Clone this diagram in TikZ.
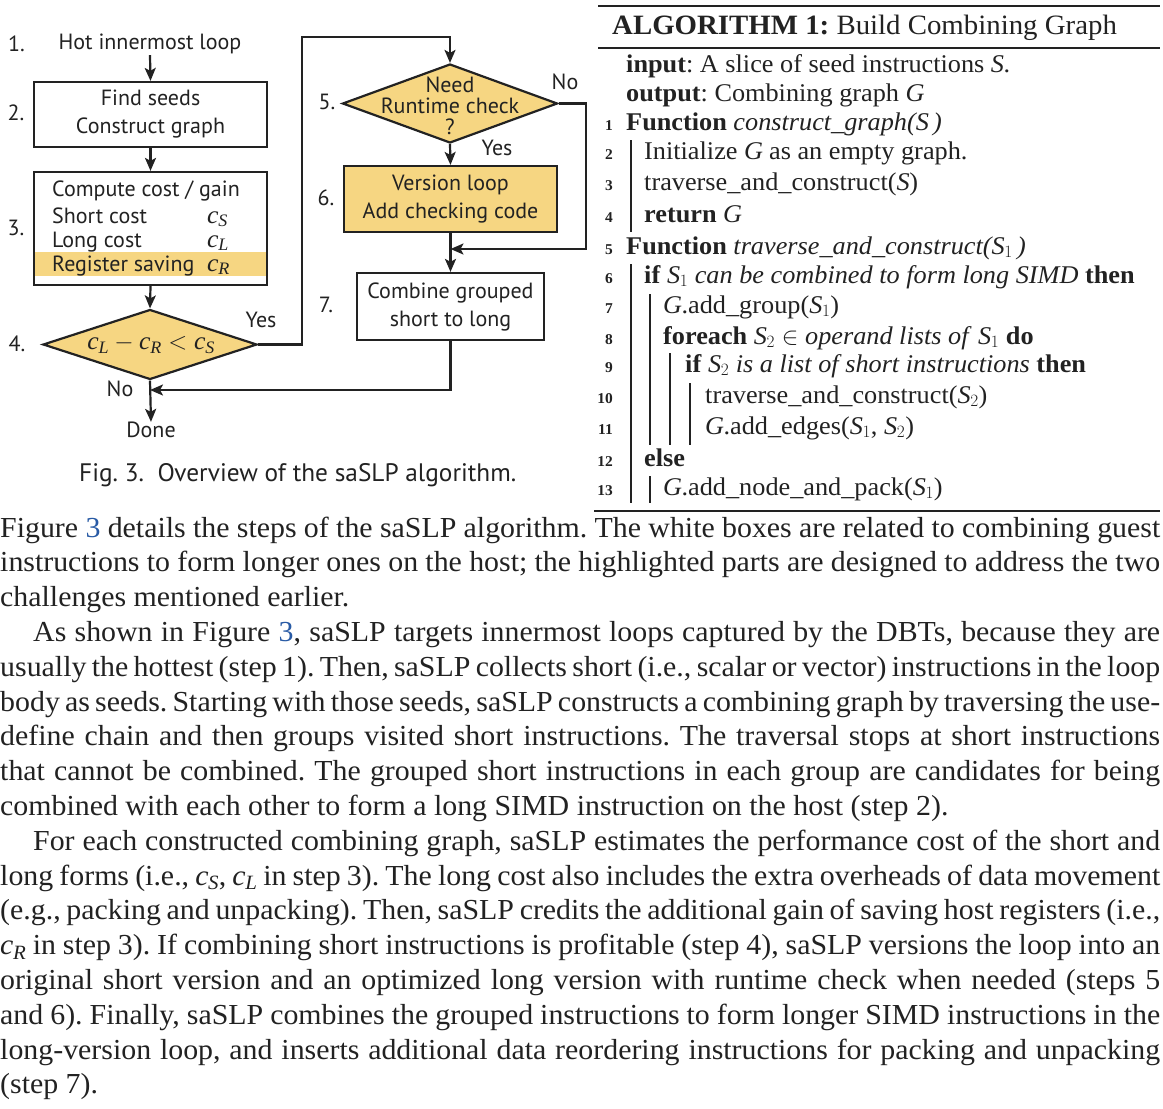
\documentclass[tikz,border=0pt]{standalone}
\usepackage{fontspec}
\setmainfont{Liberation Serif}[FakeStretch=1.03]
\setsansfont{PT Sans}
\usetikzlibrary{shapes.geometric,arrows.meta}
\definecolor{fy}{RGB}{246,214,130}
\definecolor{ink}{RGB}{34,34,34}
\definecolor{lnk}{RGB}{40,90,165}
\newcommand\vi[1]{\mathit{#1}}
\newcommand\ci[1]{\mathit{c}_{\mathit{#1}}}
\frenchspacing
\begin{document}
\begin{tikzpicture}[x=1pt,y=-1pt,
  fl/.style={font=\fontsize{22}{28}\selectfont\sffamily, text=ink},
  box/.style={draw=ink, line width=2.2pt, inner sep=0pt, align=center, fl},
  dia/.style={diamond, draw=ink, line width=2.2pt, fill=fy, inner sep=0pt},
  arr/.style={draw=ink, line width=2.2pt, -{Stealth[length=13pt,width=11pt,inset=3pt]}},
  lab/.style={fl, inner sep=0pt},
  mth/.style={font=\fontsize{25}{28}\selectfont, text=ink, inner sep=0pt},
  body/.style={font=\fontsize{29}{35}\selectfont, text=ink, inner sep=0pt, anchor=base west},
  alg/.style={font=\fontsize{25.5}{30}\selectfont, text=ink, inner sep=0pt, anchor=base west},
  algn/.style={font=\fontsize{15}{15}\selectfont\bfseries, text=ink, inner sep=0pt, anchor=base east},
  bar/.style={draw=ink, line width=1.3pt},
  rule/.style={draw=ink, line width=1.8pt}
]
\useasboundingbox (0,0) rectangle (1163,1109);
\fill[white] (0,0) rectangle (1163,1109);

% ---------------- flowchart ----------------
\node[lab, inner sep=1pt] (h1) at (150,44) {Hot innermost loop};
\node[box, minimum width=233pt, minimum height=65pt] (b2) at (150.5,114.5) {Find seeds\\Construct graph};
\fill[fy] (35,252) rectangle (266,276);
\node[box, minimum width=233pt, minimum height=113pt] (b3) at (150.5,228.5) {};
\node[lab, anchor=base west] (t3a) at (52,196) {Compute cost / gain};
\node[lab, anchor=base west] (t3b) at (52,223) {Short cost};
\node[lab, anchor=base west] (t3c) at (52,247) {Long cost};
\node[lab, anchor=base west] (t3d) at (52,271) {Register saving};
\node[mth, anchor=base west] (m3b) at (207,223) {$\ci{S}$};
\node[mth, anchor=base west] (m3c) at (207,247) {$\ci{L}$};
\node[mth, anchor=base west] (m3d) at (207,271) {$\ci{R}$};
\node[dia, minimum width=214pt, minimum height=70pt] (d4) at (150,344.5) {};
\node[mth] (t4) at (151,344.5) {$\ci{L} - \ci{R} < \ci{S}$};
\node[dia, minimum width=215pt, minimum height=79pt] (d5) at (450,103.5) {};
\node[lab, align=center, font=\fontsize{22}{21}\selectfont\sffamily] (t5) at (450,106) {Need\\Runtime check\\?};
\node[box, fill=fy, minimum width=213pt, minimum height=66pt] (b6) at (450.5,199) {Version loop\\Add checking code};
\node[box, minimum width=187pt, minimum height=67pt] (b7) at (450.5,306.5) {Combine grouped\\short to long};
\node[lab] (done) at (151,430) {Done};

\node[lab] (s1) at (16.5,44) {1.};
\node[lab] (s2) at (16,113) {2.};
\node[lab] (s3) at (16,228) {3.};
\node[lab] (s4) at (17,344) {4.};
\node[lab] (s5) at (327,102) {5.};
\node[lab] (s6) at (326,198) {6.};
\node[lab] (s7) at (326,305) {7.};
\node[lab] (y4) at (261,320) {Yes};
\node[lab] (n4) at (120,389) {No};
\node[lab] (n5) at (565,82) {No};
\node[lab] (y5) at (497,148) {Yes};

\coordinate (c1) at (302,37);
\coordinate (c2) at (586,249);
\coordinate (c3) at (150,390);

\draw[arr] (h1.south) -- (b2.north);
\draw[arr] (b2.south) -- (b3.north);
\draw[arr] (b3.south) -- (d4.north);
\draw[arr] (d4.east) -| (c1) -| (d5.north);
\draw[arr] (d5.south) -- (b6.north);
\draw[arr] (d5.east) -| (c2) -- (b6.south |- c2);
\draw[arr] (b6.south) -- (b7.north);
\draw[arr] (b7.south) |- (c3);
\draw[arr] (d4.south) -- (done.north);

\node[font=\fontsize{25.3}{28}\selectfont\sffamily, text=ink, inner sep=0pt, anchor=base west] (cap) at (79,481) {Fig. 3.\ \ Overview of the saSLP algorithm.};

% ---------------- algorithm ----------------
\coordinate (r1a) at (598,6);  \coordinate (r1b) at (1160,6);
\coordinate (r2a) at (598,48); \coordinate (r2b) at (1160,48);
\coordinate (r3a) at (594,511); \coordinate (r3b) at (1160,511);
\draw[rule, line width=2.2pt] (r1a) -- (r1b);
\draw[rule] (r2a) -- (r2b);
\draw[rule] (r3a) -- (r3b);
\node[alg, font=\fontsize{28}{30}\selectfont] (atitle) at (612,34) {\textbf{ALGORITHM 1:} Build Combining Graph};
\node[alg] (ain) at (626,72) {\textbf{input}: A slice of seed instructions $\vi{S}$.};
\node[alg] (aout) at (626,101) {\textbf{output}: Combining graph $\vi{G}$};
\node[alg] (a1) at (626,130) {\textbf{Function} \textit{construct\_graph(S\,)}};
\node[alg] (a2) at (644,159) {Initialize $\vi{G}$ as an empty graph.};
\node[alg] (a3) at (644,190) {traverse\_and\_construct($\vi{S}$)};
\node[alg] (a4) at (644,222) {\textbf{return} $\vi{G}$};
\node[alg] (a5) at (626,254) {\textbf{Function} \textit{traverse\_and\_construct($\vi{S}_1$\,)}};
\node[alg] (a6) at (644,283) {\textbf{if} $\vi{S}_1$ \textit{can be combined to form long SIMD} \textbf{then}};
\node[alg] (a7) at (663,313) {$\vi{G}$.add\_group($\vi{S}_1$)};
\node[alg] (a8) at (663,344) {\textbf{foreach} $\vi{S}_2 \in$ \textit{operand lists of} $\vi{S}_1$ \textbf{do}};
\node[alg] (a9) at (685,372) {\textbf{if} $\vi{S}_2$ \textit{is a list of short instructions} \textbf{then}};
\node[alg] (a10) at (705,403) {traverse\_and\_construct($\vi{S}_2$)};
\node[alg] (a11) at (705,434) {$\vi{G}$.add\_edges($\vi{S}_1$, $\vi{S}_2$)};
\node[alg] (a12) at (644,466) {\textbf{else}};
\node[alg] (a13) at (663,495) {$\vi{G}$.add\_node\_and\_pack($\vi{S}_1$)};
\foreach \n/\y in {1/130,2/159,3/190,4/222,5/254,6/283,7/313,8/344,9/372,10/403,11/434,12/466,13/495}{
  \node[algn] (ln\n) at (613,\y) {\n};
}
\draw[bar] (631,140) -- (631,232);
\draw[bar] (631,264) -- (631,503);
\draw[bar] (650,294) -- (650,445);
\draw[bar] (650,476) -- (650,503);
\draw[bar] (670,353) -- (670,445);
\draw[bar] (690,383) -- (690,445);

% ---------------- body text ----------------
\node[body] (p1) at (0,537.0) {\makebox[1160pt][s]{Figure \textcolor{lnk}{3} details the steps of the saSLP algorithm. The white boxes are related to combining guest}};
\node[body] (p2) at (0,571.8) {\makebox[1160pt][s]{instructions to form longer ones on the host; the highlighted parts are designed to address the two}};
\node[body] (p3) at (0,606.6) {challenges mentioned earlier.};
\node[body] (p4) at (33,641.4) {\makebox[1127pt][s]{As shown in Figure \textcolor{lnk}{3}, saSLP targets innermost loops captured by the DBTs, because they are}};
\node[body] (p5) at (0,676.2) {\makebox[1160pt][s]{usually the hottest (step 1). Then, saSLP collects short (i.e., scalar or vector) instructions in the loop}};
\node[body] (p6) at (0,711.0) {\makebox[1160pt][s]{body as seeds. Starting with those seeds, saSLP constructs a combining graph by traversing the use-}};
\node[body] (p7) at (0,745.8) {\makebox[1160pt][s]{define chain and then groups visited short instructions. The traversal stops at short instructions}};
\node[body] (p8) at (0,780.6) {\makebox[1160pt][s]{that cannot be combined. The grouped short instructions in each group are candidates for being}};
\node[body] (p9) at (0,815.4) {combined with each other to form a long SIMD instruction on the host (step 2).};
\node[body] (p10) at (33,850.2) {\makebox[1127pt][s]{For each constructed combining graph, saSLP estimates the performance cost of the short and}};
\node[body] (p11) at (0,885.0) {\makebox[1160pt][s]{long forms (i.e., $\ci{S}$, $\ci{L}$ in step 3). The long cost also includes the extra overheads of data movement}};
\node[body] (p12) at (0,919.8) {\makebox[1160pt][s]{(e.g., packing and unpacking). Then, saSLP credits the additional gain of saving host registers (i.e.,}};
\node[body] (p13) at (0,954.6) {\makebox[1160pt][s]{$\ci{R}$ in step 3). If combining short instructions is profitable (step 4), saSLP versions the loop into an}};
\node[body] (p14) at (0,989.4) {\makebox[1160pt][s]{original short version and an optimized long version with runtime check when needed (steps 5}};
\node[body] (p15) at (0,1024.2) {\makebox[1160pt][s]{and 6). Finally, saSLP combines the grouped instructions to form longer SIMD instructions in the}};
\node[body] (p16) at (0,1059.0) {\makebox[1160pt][s]{long-version loop, and inserts additional data reordering instructions for packing and unpacking}};
\node[body] (p17) at (0,1093.8) {(step 7).};
\end{tikzpicture}
\end{document}
